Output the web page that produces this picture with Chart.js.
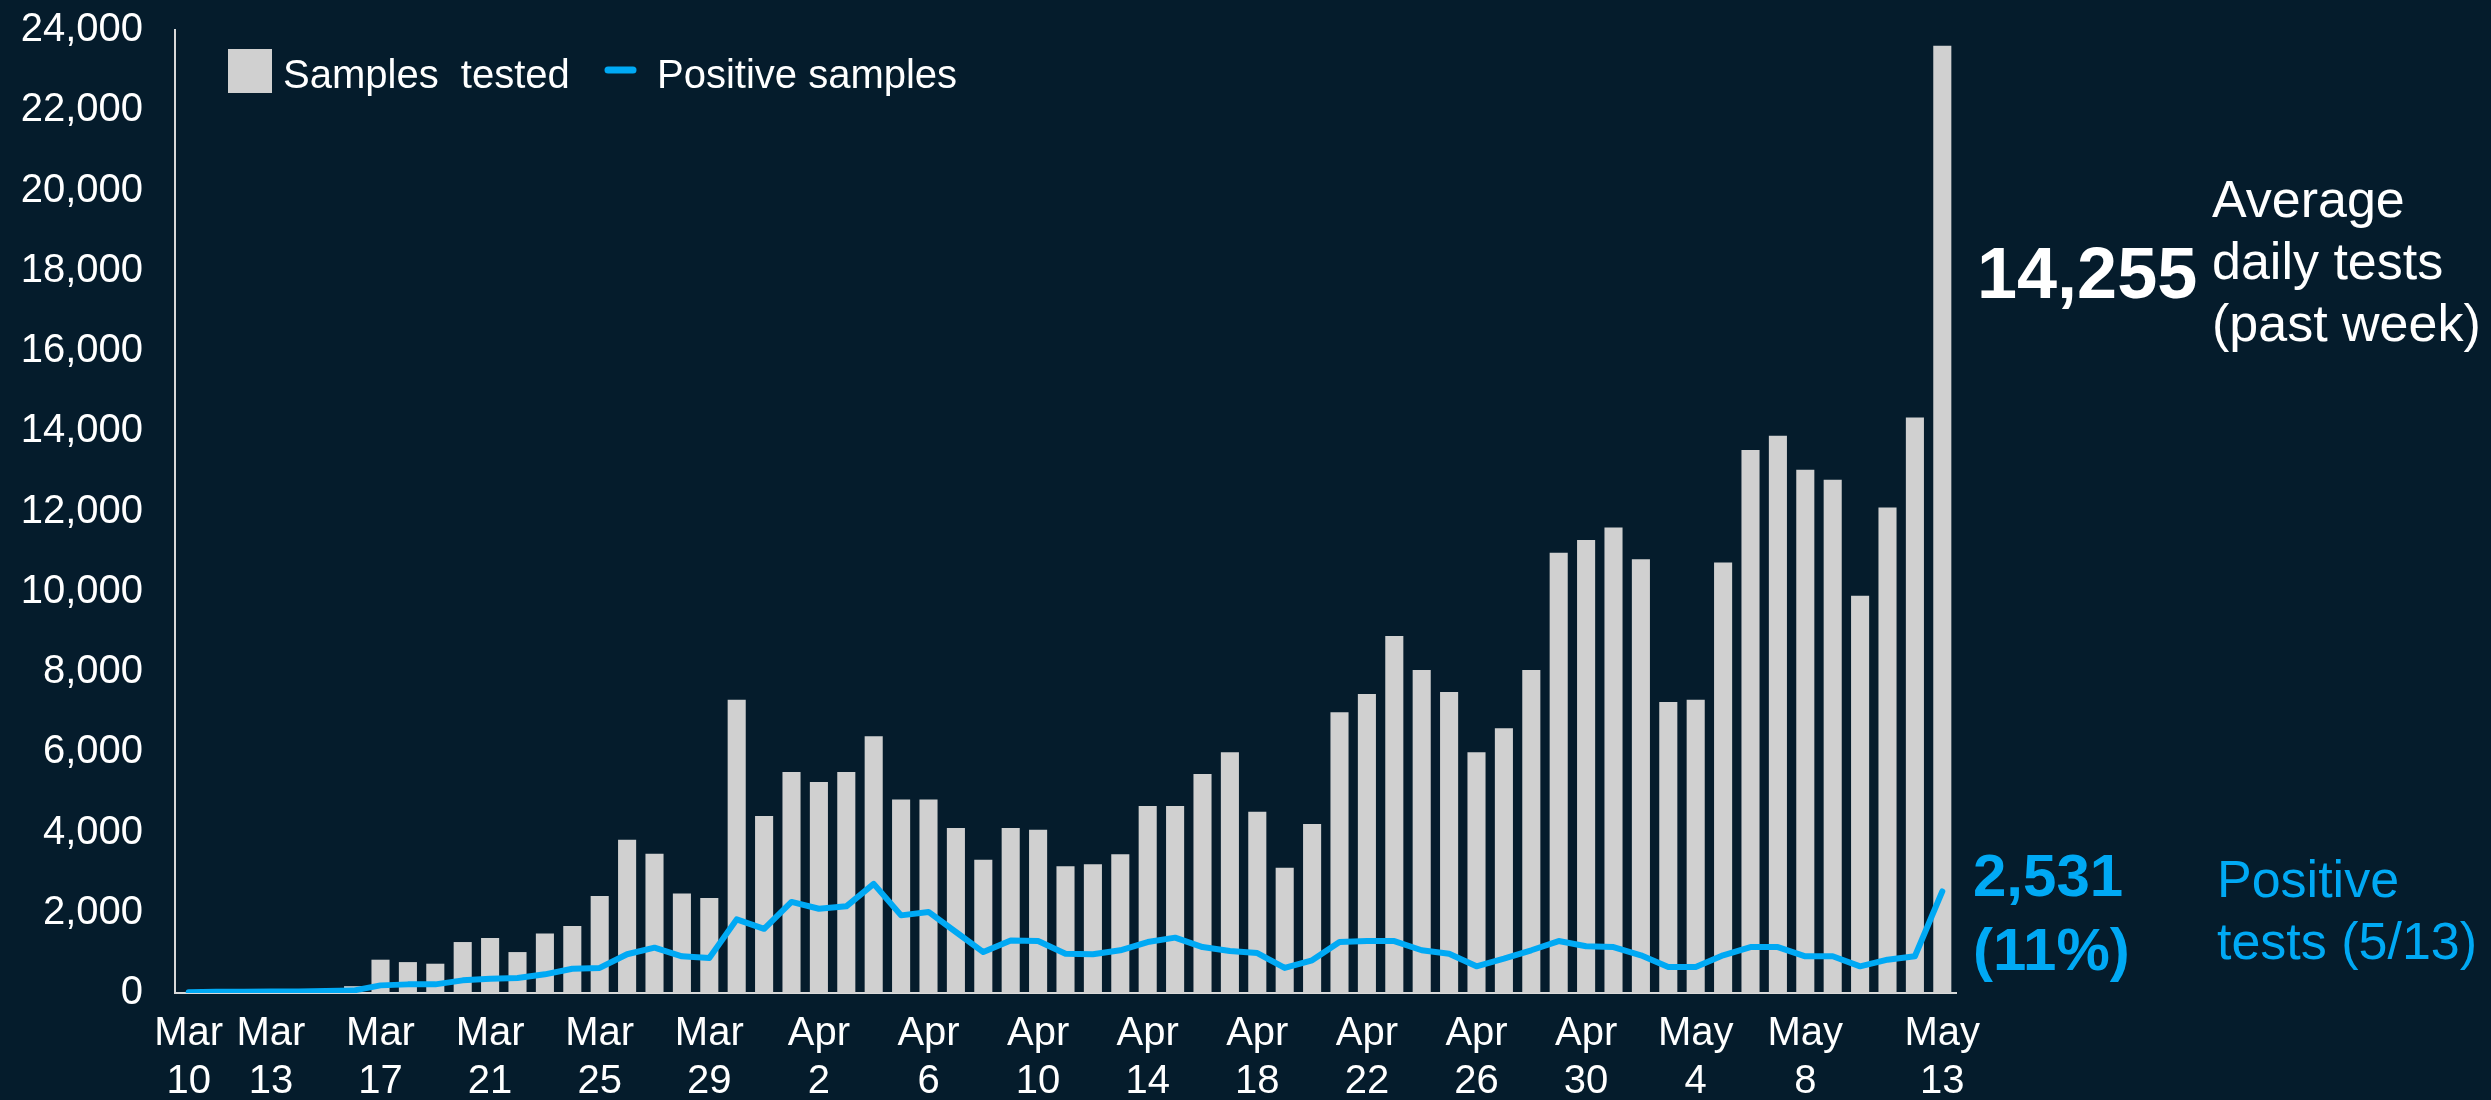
<!DOCTYPE html>
<html>
<head>
<meta charset="utf-8">
<script src="https://cdn.jsdelivr.net/npm/chart.js@4.4.0/dist/chart.umd.min.js"></script>
<style>
  html, body { margin: 0; padding: 0; background: #051C2C; overflow: hidden; }
  canvas { display: block; }
</style>
</head>
<body>
<canvas id="chart" width="2491" height="1100"></canvas>
<script>
// ---------------- DATA ----------------
const categories = [
  'Mar 10','Mar 11','Mar 12','Mar 13','Mar 14','Mar 15','Mar 16','Mar 17','Mar 18','Mar 19','Mar 20',
  'Mar 21','Mar 22','Mar 23','Mar 24','Mar 25','Mar 26','Mar 27','Mar 28','Mar 29','Mar 30','Mar 31',
  'Apr 1','Apr 2','Apr 3','Apr 4','Apr 5','Apr 6','Apr 7','Apr 8','Apr 9','Apr 10',
  'Apr 11','Apr 12','Apr 13','Apr 14','Apr 15','Apr 16','Apr 17','Apr 18','Apr 19','Apr 20',
  'Apr 21','Apr 22','Apr 23','Apr 24','Apr 25','Apr 26','Apr 27','Apr 28','Apr 29','Apr 30',
  'May 1','May 2','May 3','May 4','May 5','May 6','May 7','May 8','May 9','May 10',
  'May 11','May 12','May 13'
];

const tickLabels = [
  'Mar 10','Mar 13','Mar 17','Mar 21','Mar 25','Mar 29','Apr 2','Apr 6','Apr 10',
  'Apr 14','Apr 18','Apr 22','Apr 26','Apr 30','May 4','May 8','May 13'
];

const samplesTested = [
  0, 0, 0, 0, 0, 0, 170, 830, 770, 730, 1270,
  1370, 1020, 1480, 1670, 2420, 3820, 3470, 2480, 2370, 7310, 4410,
  5510, 5260, 5510, 6400, 4820, 4820, 4110, 3320, 4110, 4070,
  3160, 3210, 3460, 4660, 4660, 5460, 6000, 4520, 3120, 4210,
  7000, 7450, 8900, 8050, 7500, 6000, 6600, 8050, 10970, 11290,
  11600, 10810, 7250, 7310, 10730, 13530, 13890, 13040, 12790, 9900,
  12100, 14340, 23610
];

const positiveSamples = [
  20, 30, 30, 40, 40, 50, 60, 190, 215, 215, 315,
  355, 375, 465, 605, 625, 965, 1130, 915, 870, 1835, 1600,
  2270, 2100, 2160, 2720, 1935, 2020, 1520, 1020, 1310, 1295,
  980, 965, 1065, 1270, 1380, 1145, 1045, 995, 625, 815,
  1270, 1295, 1295, 1065, 980, 665, 855, 1065, 1295, 1165,
  1145, 940, 650, 650, 940, 1145, 1145, 915, 915, 665,
  830, 915, 2531
];

const seriesNames = ['Samples  tested', 'Positive samples'];
const yTicks = { min: 0, max: 24000, step: 2000 };

const avgDailyTests = '14,255';
const avgDailyLabel = ['Average', 'daily tests', '(past week)'];
const positiveLatest = '2,531';
const positiveShare = '(11%)';
const positiveLabel = ['Positive', 'tests (5/13)'];

// ---------------- STYLE ----------------
const BG = '#051C2C';
const GREY = '#D0D0D0';
const CYAN = '#00A9F4';
const AXIS = '#D9D9D9';
const FONT = '"Liberation Sans", Arial, Helvetica, sans-serif';

Chart.defaults.font.family = FONT;

const overlay = {
  id: 'overlay',
  beforeDraw(chart) {
    const ctx = chart.ctx;
    ctx.save();
    ctx.fillStyle = BG;
    ctx.fillRect(0, 0, chart.width, chart.height);
    ctx.restore();
  },
  afterDraw(chart) {
    const ctx = chart.ctx;
    const a = chart.chartArea;
    ctx.save();
    ctx.textAlign = 'left';
    ctx.textBaseline = 'alphabetic';

    // Legend (inside plot, top-left)
    const lx = a.left + 53, ly = a.top + 19;
    ctx.fillStyle = GREY;
    ctx.fillRect(lx, ly, 44, 44);
    ctx.fillStyle = '#FFFFFF';
    ctx.font = '40px ' + FONT;
    ctx.fillText(seriesNames[0], lx + 55, ly + 39);
    ctx.strokeStyle = CYAN;
    ctx.lineWidth = 7;
    ctx.lineCap = 'round';
    ctx.beginPath();
    ctx.moveTo(a.left + 433, ly + 21);
    ctx.lineTo(a.left + 458, ly + 21);
    ctx.stroke();
    ctx.fillText(seriesNames[1], a.left + 482, ly + 39);

    // Right-side annotations
    const rx = a.right;
    ctx.fillStyle = '#FFFFFF';
    ctx.font = 'bold 72px ' + FONT;
    ctx.fillText(avgDailyTests, rx + 21, 298);
    ctx.font = '52px ' + FONT;
    ctx.fillText(avgDailyLabel[0], rx + 256, 217);
    ctx.fillText(avgDailyLabel[1], rx + 256, 279);
    ctx.fillText(avgDailyLabel[2], rx + 256, 341);

    ctx.fillStyle = CYAN;
    ctx.font = 'bold 60px ' + FONT;
    ctx.fillText(positiveLatest, rx + 17, 896);
    ctx.fillText(positiveShare, rx + 17, 970);
    ctx.font = '52px ' + FONT;
    ctx.fillText(positiveLabel[0], rx + 261, 897);
    ctx.fillText(positiveLabel[1], rx + 261, 959);
    ctx.restore();
  }
};

new Chart(document.getElementById('chart'), {
  data: {
    labels: categories,
    datasets: [
      {
        type: 'line',
        label: seriesNames[1],
        data: positiveSamples,
        borderColor: CYAN,
        backgroundColor: CYAN,
        borderWidth: 6,
        pointRadius: 0,
        tension: 0,
        borderJoinStyle: 'round',
        borderCapStyle: 'round',
        order: 0
      },
      {
        type: 'bar',
        label: seriesNames[0],
        data: samplesTested,
        backgroundColor: GREY,
        borderWidth: 0,
        barPercentage: 0.66,
        categoryPercentage: 1.0,
        order: 1
      }
    ]
  },
  options: {
    responsive: false,
    devicePixelRatio: 1,
    animation: false,
    events: [],
    layout: { padding: { left: 0, right: 535, top: 30, bottom: 0 } },
    plugins: {
      legend: { display: false },
      tooltip: { enabled: false },
      title: { display: false }
    },
    scales: {
      x: {
        offset: true,
        grid: { display: false, drawTicks: false },
        border: { display: true, color: AXIS, width: 2 },
        ticks: {
          autoSkip: false,
          maxRotation: 0,
          minRotation: 0,
          padding: 17,
          color: '#FFFFFF',
          font: { size: 40, lineHeight: 1.2 },
          callback: function (value, index) {
            const c = categories[index];
            return tickLabels.includes(c) ? c.split(' ') : '';
          }
        },
        afterFit: function (scale) { scale.height = 107; scale.paddingLeft = 0; scale.paddingRight = 0; }
      },
      y: {
        min: yTicks.min,
        max: yTicks.max,
        grid: { display: false, drawTicks: false },
        border: { display: true, color: AXIS, width: 2 },
        ticks: {
          stepSize: yTicks.step,
          padding: 32,
          color: '#FFFFFF',
          font: { size: 40 },
          callback: function (v) { return Number(v).toLocaleString('en-US'); }
        },
        afterFit: function (scale) { scale.width = 175; scale.paddingTop = 0; scale.paddingBottom = 0; }
      }
    }
  },
  plugins: [overlay]
});
</script>
</body>
</html>
